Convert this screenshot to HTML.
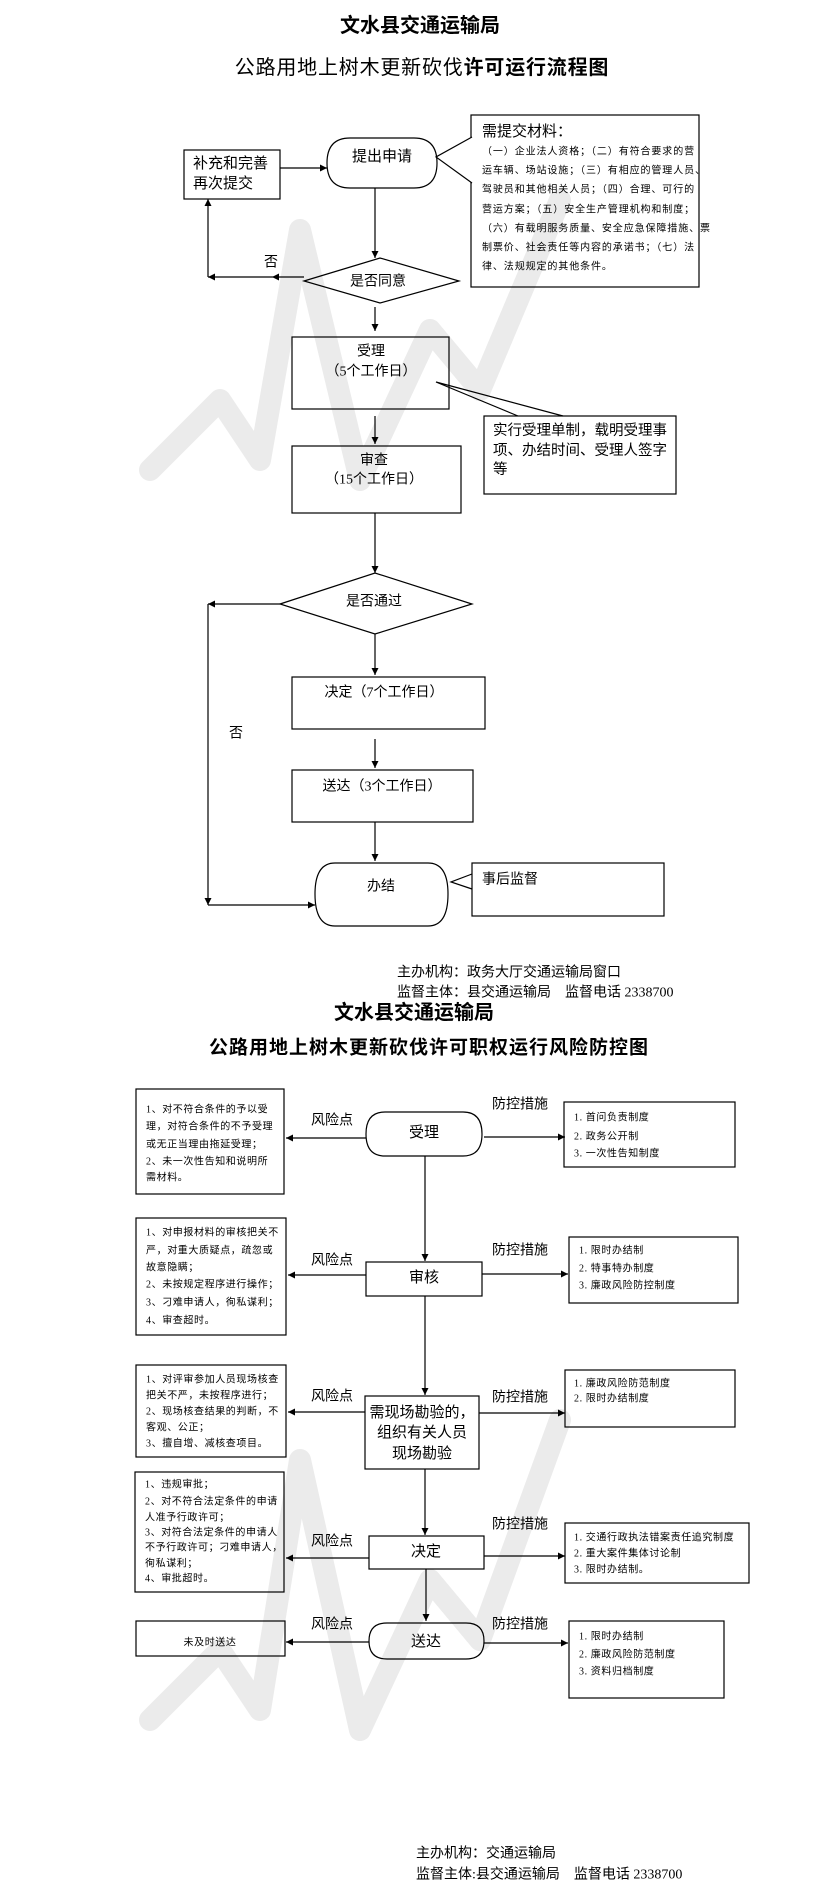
<!DOCTYPE html>
<html><head><meta charset="utf-8"><style>
html,body{margin:0;padding:0;background:#fff;}
svg{display:block;}
text{font-family:"Liberation Serif","Noto Sans CJK SC",sans-serif;fill:#000;}
</style></head><body>
<svg width="823" height="1897" viewBox="0 0 823 1897" xmlns="http://www.w3.org/2000/svg">
<defs>
<marker id="a" viewBox="0 0 10 10" refX="10" refY="5" markerWidth="7" markerHeight="7" orient="auto-start-reverse" markerUnits="userSpaceOnUse"><path d="M0,0 L10,5 L0,10 z" fill="#000"/></marker>
</defs>
<g stroke="#ebebeb" stroke-width="22" fill="none" stroke-linecap="round" stroke-linejoin="round">
<path d="M150,470 L220,400 L260,460 L300,230 L360,480 L430,330 L480,390 L560,200"/>
<path d="M150,1720 L220,1650 L260,1710 L300,1460 L360,1730 L430,1580 L480,1640 L560,1420"/>
</g>
<g fill="none" stroke="#000" stroke-width="1.2">
<rect x="471" y="115" width="228" height="172"/>
<polyline points="472,137 436,157 472,183" fill="#fff"/>
<path d="M350,138 L414,138 Q437,138 437,163 Q437,188 414,188 L350,188 Q327,188 327,163 Q327,138 350,138 Z"/>
<rect x="184" y="150" width="96" height="49"/>
<line x1="280" y1="168" x2="327" y2="168" marker-end="url(#a)"/>
<line x1="375" y1="188" x2="375" y2="258" marker-end="url(#a)"/>
<polygon points="304,281 380,258 459,281 380,303"/>
<line x1="304" y1="277" x2="272" y2="277" marker-end="url(#a)"/>
<line x1="272" y1="277" x2="208" y2="277" marker-end="url(#a)"/>
<line x1="208" y1="277" x2="208" y2="199" marker-end="url(#a)"/>
<line x1="375" y1="307" x2="375" y2="331" marker-end="url(#a)"/>
<rect x="292" y="337" width="157" height="72"/>
<polyline points="518,416 436,382 563,416"/>
<rect x="484" y="416" width="192" height="78"/>
<line x1="375" y1="416" x2="375" y2="444" marker-end="url(#a)"/>
<rect x="292" y="446" width="169" height="67"/>
<line x1="375" y1="513" x2="375" y2="573" marker-end="url(#a)"/>
<polygon points="280,604 375,573 472,604 375,634"/>
<line x1="280" y1="604" x2="208" y2="604" marker-end="url(#a)"/>
<line x1="208" y1="604" x2="208" y2="905" marker-end="url(#a)"/>
<line x1="208" y1="905" x2="315" y2="905" marker-end="url(#a)"/>
<line x1="375" y1="634" x2="375" y2="675" marker-end="url(#a)"/>
<rect x="292" y="677" width="193" height="52"/>
<line x1="375" y1="739" x2="375" y2="768" marker-end="url(#a)"/>
<rect x="292" y="770" width="181" height="52"/>
<line x1="375" y1="822" x2="375" y2="861" marker-end="url(#a)"/>
<path d="M335,863 L428,863 Q448,863 448,894 Q448,926 428,926 L335,926 Q315,926 315,894 Q315,863 335,863 Z"/>
<polyline points="472,874 451,882 472,889"/>
<rect x="472" y="863" width="192" height="53"/>
<rect x="136" y="1089" width="148" height="105"/>
<path d="M385,1112 L463,1112 Q482,1112 482,1134 Q482,1156 463,1156 L385,1156 Q366,1156 366,1134 Q366,1112 385,1112 Z"/>
<line x1="366" y1="1138" x2="286" y2="1138" marker-end="url(#a)"/>
<line x1="484" y1="1137" x2="565" y2="1137" marker-end="url(#a)"/>
<rect x="564" y="1102" width="171" height="65"/>
<line x1="425" y1="1156" x2="425" y2="1261" marker-end="url(#a)"/>
<rect x="366" y="1262" width="116" height="34"/>
<rect x="136" y="1218" width="150" height="117"/>
<line x1="366" y1="1275" x2="288" y2="1275" marker-end="url(#a)"/>
<line x1="482" y1="1274" x2="568" y2="1274" marker-end="url(#a)"/>
<rect x="569" y="1237" width="169" height="66"/>
<line x1="425" y1="1296" x2="425" y2="1395" marker-end="url(#a)"/>
<rect x="365" y="1396" width="114" height="73"/>
<rect x="136" y="1365" width="150" height="92"/>
<line x1="365" y1="1412" x2="288" y2="1412" marker-end="url(#a)"/>
<line x1="479" y1="1413" x2="565" y2="1413" marker-end="url(#a)"/>
<rect x="565" y="1370" width="170" height="57"/>
<rect x="135" y="1472" width="149" height="120"/>
<line x1="425" y1="1469" x2="425" y2="1535" marker-end="url(#a)"/>
<rect x="369" y="1536" width="115" height="33"/>
<line x1="369" y1="1558" x2="286" y2="1558" marker-end="url(#a)"/>
<line x1="484" y1="1556" x2="565" y2="1556" marker-end="url(#a)"/>
<rect x="565" y="1523" width="184" height="60"/>
<line x1="426" y1="1569" x2="426" y2="1621" marker-end="url(#a)"/>
<path d="M387,1623 L466,1623 Q484,1623 484,1641 Q484,1659 466,1659 L387,1659 Q369,1659 369,1641 Q369,1623 387,1623 Z"/>
<rect x="136" y="1621" width="149" height="35"/>
<line x1="369" y1="1642" x2="286" y2="1642" marker-end="url(#a)"/>
<line x1="484" y1="1643" x2="568" y2="1643" marker-end="url(#a)"/>
<rect x="569" y="1621" width="155" height="77"/>
</g>

<g dominant-baseline="central">
<text x="420" y="26" font-size="20" font-weight="bold" text-anchor="middle">文水县交通运输局</text>
<text x="422" y="68" font-size="20" text-anchor="middle" letter-spacing="0.8">公路用地上树木更新砍伐<tspan font-weight="bold">许可运行流程图</tspan></text>
<text x="482" y="132" font-size="15">需提交材料：</text>
<g font-size="10" letter-spacing="0.9">
<text x="482" y="152">（一）企业法人资格；（二）有符合要求的营</text>
<text x="482" y="171">运车辆、场站设施；（三）有相应的管理人员、</text>
<text x="482" y="190">驾驶员和其他相关人员；（四）合理、可行的</text>
<text x="482" y="210">营运方案；（五）安全生产管理机构和制度；</text>
<text x="482" y="229">（六）有载明服务质量、安全应急保障措施、票</text>
<text x="482" y="248">制票价、社会责任等内容的承诺书；（七）法</text>
<text x="482" y="267">律、法规规定的其他条件。</text>
</g>
<text x="382" y="157" font-size="15" text-anchor="middle">提出申请</text>
<text x="193" y="164" font-size="15">补充和完善</text>
<text x="193" y="184" font-size="15">再次提交</text>
<text x="271" y="263" font-size="14" text-anchor="middle">否</text>
<text x="378" y="282" font-size="14" text-anchor="middle">是否同意</text>
<text x="371" y="352" font-size="14" text-anchor="middle">受理</text>
<text x="371" y="372" font-size="14" text-anchor="middle">（5个工作日）</text>
<text x="493" y="431" font-size="14.5">实行受理单制，载明受理事</text>
<text x="493" y="451" font-size="14.5">项、办结时间、受理人签字</text>
<text x="493" y="470" font-size="14.5">等</text>
<text x="374" y="461" font-size="14" text-anchor="middle">审查</text>
<text x="374" y="480" font-size="14" text-anchor="middle">（15个工作日）</text>
<text x="374" y="602" font-size="14" text-anchor="middle">是否通过</text>
<text x="236" y="734" font-size="14" text-anchor="middle">否</text>
<text x="384" y="693" font-size="14" text-anchor="middle">决定（7个工作日）</text>
<text x="382" y="787" font-size="14" text-anchor="middle">送达（3个工作日）</text>
<text x="381" y="887" font-size="14" text-anchor="middle">办结</text>
<text x="482" y="880" font-size="14">事后监督</text>
<text x="397" y="973" font-size="14">主办机构：政务大厅交通运输局窗口</text>
<text x="397" y="993" font-size="14">监督主体：县交通运输局　监督电话  2338700</text>
<text x="414" y="1013" font-size="20" font-weight="bold" text-anchor="middle">文水县交通运输局</text>
<text x="429" y="1048" font-size="19" font-weight="bold" text-anchor="middle" letter-spacing="1">公路用地上树木更新砍伐许可职权运行风险防控图</text>

<g font-size="10" letter-spacing="0.6">
<text x="146" y="1110">1、对不符合条件的予以受</text>
<text x="146" y="1127">理，对符合条件的不予受理</text>
<text x="146" y="1145">或无正当理由拖延受理；</text>
<text x="146" y="1162">2、未一次性告知和说明所</text>
<text x="146" y="1178">需材料。</text>
<text x="574" y="1118">1. 首问负责制度</text>
<text x="574" y="1137">2. 政务公开制</text>
<text x="574" y="1154">3. 一次性告知制度</text>
<text x="146" y="1233">1、对申报材料的审核把关不</text>
<text x="146" y="1251">严，对重大质疑点，疏忽或</text>
<text x="146" y="1268">故意隐瞒；</text>
<text x="146" y="1285">2、未按规定程序进行操作；</text>
<text x="146" y="1303">3、刁难申请人，徇私谋利；</text>
<text x="146" y="1321">4、审查超时。</text>
<text x="579" y="1251">1. 限时办结制</text>
<text x="579" y="1269">2. 特事特办制度</text>
<text x="579" y="1286">3. 廉政风险防控制度</text>
<text x="146" y="1380">1、对评审参加人员现场核查</text>
<text x="146" y="1396">把关不严，未按程序进行；</text>
<text x="146" y="1412">2、现场核查结果的判断，不</text>
<text x="146" y="1428">客观、公正；</text>
<text x="146" y="1444">3、擅自增、减核查项目。</text>
<text x="574" y="1384">1. 廉政风险防范制度</text>
<text x="574" y="1399">2. 限时办结制度</text>
<text x="145" y="1485">1、违规审批；</text>
<text x="145" y="1502">2、对不符合法定条件的申请</text>
<text x="145" y="1518">人准予行政许可；</text>
<text x="145" y="1533">3、对符合法定条件的申请人</text>
<text x="145" y="1548">不予行政许可；刁难申请人，</text>
<text x="145" y="1564">徇私谋利；</text>
<text x="145" y="1579">4、审批超时。</text>
<text x="574" y="1538">1. 交通行政执法错案责任追究制度</text>
<text x="574" y="1554">2. 重大案件集体讨论制</text>
<text x="574" y="1570">3. 限时办结制。</text>
<text x="210" y="1643" text-anchor="middle">未及时送达</text>
<text x="579" y="1637">1. 限时办结制</text>
<text x="579" y="1655">2. 廉政风险防范制度</text>
<text x="579" y="1672">3. 资料归档制度</text>
</g>
<g font-size="14">
<text x="311" y="1121">风险点</text><text x="492" y="1105">防控措施</text>
<text x="311" y="1261">风险点</text><text x="492" y="1251">防控措施</text>
<text x="311" y="1397">风险点</text><text x="492" y="1398">防控措施</text>
<text x="311" y="1542">风险点</text><text x="492" y="1525">防控措施</text>
<text x="311" y="1625">风险点</text><text x="492" y="1625">防控措施</text>
</g>
<text x="424" y="1133" font-size="15" text-anchor="middle">受理</text>
<text x="424" y="1278" font-size="15" text-anchor="middle">审核</text>
<text x="422" y="1413" font-size="15" text-anchor="middle">需现场勘验的，</text>
<text x="422" y="1433" font-size="15" text-anchor="middle">组织有关人员</text>
<text x="422" y="1454" font-size="15" text-anchor="middle">现场勘验</text>
<text x="426" y="1552" font-size="15" text-anchor="middle">决定</text>
<text x="426" y="1642" font-size="15" text-anchor="middle">送达</text>
<text x="416" y="1854" font-size="14">主办机构：交通运输局</text>
<text x="416" y="1875" font-size="14">监督主体:县交通运输局　监督电话  2338700</text>
</g>
</svg>
</body></html>
